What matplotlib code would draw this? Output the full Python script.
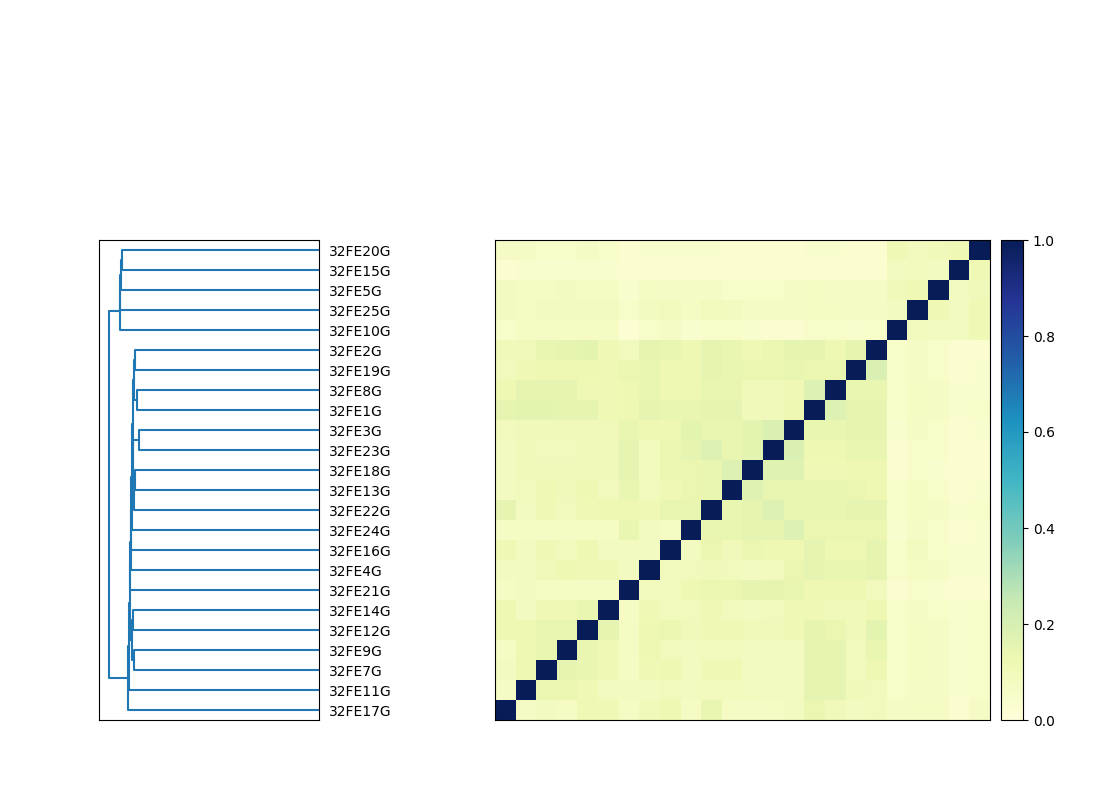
"""Leaf dendrogram next to a similarity heatmap (YlGnBu)."""
import numpy as np
import matplotlib
matplotlib.use("Agg")
import matplotlib.pyplot as plt

LINE = "#1f77b4"

# leaf order, bottom -> top (same order as heatmap rows/columns)
LEAVES = ["32FE17G", "32FE11G", "32FE7G", "32FE9G", "32FE12G", "32FE14G",
          "32FE21G", "32FE4G", "32FE16G", "32FE24G", "32FE22G", "32FE13G",
          "32FE18G", "32FE23G", "32FE3G", "32FE1G", "32FE8G", "32FE19G",
          "32FE2G", "32FE10G", "32FE25G", "32FE5G", "32FE15G", "32FE20G"]

# merges: (left, right, distance); an int refers to an earlier merge
MERGES = [
    ("32FE20G", "32FE15G", 0.941),   # 0
    (0, "32FE5G", 0.945),            # 1
    (1, "32FE25G", 0.948),           # 2
    (2, "32FE10G", 0.952),           # 3
    ("32FE2G", "32FE19G", 0.877),    # 4
    ("32FE8G", "32FE1G", 0.869),     # 5
    (4, 5, 0.884),                   # 6
    ("32FE3G", "32FE23G", 0.860),    # 7
    ("32FE18G", "32FE13G", 0.877),   # 8
    (8, "32FE22G", 0.884),           # 9
    (7, 9, 0.888),                   # 10
    (6, 10, 0.890),                  # 11
    (11, "32FE24G", 0.892),          # 12
    (12, "32FE16G", 0.897),          # 13
    (13, "32FE4G", 0.899),           # 14
    (14, "32FE21G", 0.900),          # 15
    ("32FE14G", "32FE12G", 0.888),   # 16
    ("32FE9G", "32FE7G", 0.883),     # 17
    (16, 17, 0.892),                 # 18
    (15, 18, 0.904),                 # 19
    (19, "32FE11G", 0.909),          # 20
    (20, "32FE17G", 0.911),          # 21
    (3, 21, 1.000),                  # 22
]

# similarity matrix, row 0 = bottom leaf, column 0 = left
SIMILARITY = [
    [1.00, 0.06, 0.08, 0.07, 0.11, 0.11, 0.07, 0.10, 0.12, 0.07, 0.14, 0.07, 0.06, 0.07, 0.08, 0.13, 0.10, 0.08, 0.09, 0.06, 0.07, 0.07, 0.03, 0.06],
    [0.06, 1.00, 0.13, 0.13, 0.11, 0.08, 0.08, 0.08, 0.09, 0.08, 0.09, 0.09, 0.08, 0.08, 0.08, 0.15, 0.15, 0.10, 0.09, 0.05, 0.06, 0.06, 0.04, 0.05],
    [0.08, 0.12, 1.00, 0.15, 0.14, 0.11, 0.07, 0.11, 0.12, 0.08, 0.11, 0.11, 0.08, 0.08, 0.08, 0.15, 0.15, 0.09, 0.12, 0.05, 0.07, 0.06, 0.04, 0.05],
    [0.07, 0.12, 0.14, 1.00, 0.14, 0.11, 0.07, 0.12, 0.09, 0.08, 0.09, 0.09, 0.08, 0.08, 0.08, 0.15, 0.15, 0.09, 0.14, 0.05, 0.07, 0.06, 0.04, 0.05],
    [0.12, 0.12, 0.14, 0.14, 1.00, 0.15, 0.07, 0.12, 0.13, 0.10, 0.11, 0.11, 0.10, 0.10, 0.11, 0.15, 0.13, 0.10, 0.16, 0.05, 0.07, 0.06, 0.04, 0.05],
    [0.12, 0.08, 0.11, 0.11, 0.14, 1.00, 0.07, 0.11, 0.09, 0.09, 0.11, 0.09, 0.08, 0.09, 0.11, 0.11, 0.10, 0.10, 0.12, 0.05, 0.06, 0.05, 0.04, 0.05],
    [0.07, 0.08, 0.07, 0.07, 0.07, 0.07, 1.00, 0.09, 0.09, 0.12, 0.13, 0.13, 0.15, 0.15, 0.14, 0.12, 0.12, 0.12, 0.09, 0.03, 0.05, 0.04, 0.03, 0.03],
    [0.08, 0.08, 0.10, 0.12, 0.11, 0.11, 0.08, 1.00, 0.09, 0.09, 0.10, 0.09, 0.08, 0.09, 0.13, 0.15, 0.14, 0.14, 0.15, 0.05, 0.07, 0.06, 0.04, 0.04],
    [0.11, 0.08, 0.11, 0.09, 0.12, 0.08, 0.08, 0.08, 1.00, 0.08, 0.13, 0.10, 0.13, 0.12, 0.12, 0.15, 0.12, 0.12, 0.15, 0.05, 0.08, 0.05, 0.04, 0.04],
    [0.07, 0.07, 0.07, 0.07, 0.07, 0.07, 0.14, 0.08, 0.07, 1.00, 0.14, 0.14, 0.15, 0.15, 0.18, 0.13, 0.13, 0.13, 0.13, 0.04, 0.06, 0.05, 0.03, 0.04],
    [0.15, 0.08, 0.11, 0.09, 0.11, 0.12, 0.12, 0.11, 0.14, 0.14, 1.00, 0.14, 0.15, 0.18, 0.14, 0.14, 0.14, 0.15, 0.15, 0.05, 0.07, 0.06, 0.04, 0.05],
    [0.08, 0.09, 0.11, 0.10, 0.12, 0.09, 0.14, 0.09, 0.11, 0.13, 0.14, 1.00, 0.17, 0.14, 0.14, 0.14, 0.14, 0.13, 0.12, 0.05, 0.07, 0.05, 0.03, 0.04],
    [0.08, 0.10, 0.10, 0.10, 0.10, 0.10, 0.15, 0.09, 0.13, 0.13, 0.14, 0.18, 1.00, 0.17, 0.17, 0.11, 0.11, 0.12, 0.12, 0.03, 0.05, 0.04, 0.03, 0.03],
    [0.08, 0.10, 0.09, 0.09, 0.10, 0.10, 0.15, 0.09, 0.13, 0.15, 0.18, 0.14, 0.16, 1.00, 0.19, 0.12, 0.12, 0.14, 0.14, 0.03, 0.05, 0.05, 0.03, 0.03],
    [0.09, 0.10, 0.10, 0.10, 0.10, 0.10, 0.14, 0.12, 0.12, 0.16, 0.14, 0.14, 0.16, 0.19, 1.00, 0.14, 0.14, 0.15, 0.15, 0.04, 0.06, 0.05, 0.03, 0.04],
    [0.15, 0.16, 0.16, 0.15, 0.15, 0.11, 0.12, 0.15, 0.14, 0.14, 0.15, 0.15, 0.10, 0.10, 0.12, 1.00, 0.18, 0.15, 0.15, 0.05, 0.07, 0.06, 0.04, 0.05],
    [0.12, 0.15, 0.15, 0.15, 0.11, 0.11, 0.12, 0.14, 0.12, 0.12, 0.14, 0.14, 0.10, 0.10, 0.11, 0.18, 1.00, 0.14, 0.14, 0.05, 0.07, 0.06, 0.04, 0.04],
    [0.09, 0.11, 0.12, 0.12, 0.12, 0.11, 0.13, 0.14, 0.12, 0.12, 0.15, 0.14, 0.13, 0.13, 0.14, 0.13, 0.13, 1.00, 0.19, 0.05, 0.06, 0.05, 0.03, 0.04],
    [0.10, 0.10, 0.14, 0.15, 0.16, 0.11, 0.09, 0.15, 0.14, 0.12, 0.15, 0.14, 0.11, 0.13, 0.15, 0.15, 0.12, 0.15, 1.00, 0.05, 0.06, 0.05, 0.03, 0.03],
    [0.05, 0.07, 0.07, 0.07, 0.07, 0.07, 0.02, 0.05, 0.06, 0.04, 0.05, 0.05, 0.04, 0.03, 0.03, 0.05, 0.05, 0.04, 0.05, 1.00, 0.09, 0.08, 0.08, 0.11],
    [0.08, 0.07, 0.08, 0.08, 0.08, 0.08, 0.05, 0.08, 0.09, 0.07, 0.09, 0.08, 0.06, 0.06, 0.06, 0.07, 0.07, 0.06, 0.06, 0.08, 1.00, 0.11, 0.08, 0.11],
    [0.08, 0.07, 0.07, 0.08, 0.07, 0.07, 0.04, 0.07, 0.06, 0.06, 0.06, 0.05, 0.05, 0.05, 0.06, 0.07, 0.06, 0.06, 0.06, 0.10, 0.11, 1.00, 0.08, 0.10],
    [0.03, 0.04, 0.04, 0.04, 0.04, 0.04, 0.03, 0.03, 0.03, 0.03, 0.03, 0.03, 0.03, 0.03, 0.03, 0.03, 0.03, 0.03, 0.03, 0.08, 0.09, 0.08, 1.00, 0.11],
    [0.06, 0.06, 0.05, 0.05, 0.06, 0.05, 0.03, 0.04, 0.04, 0.04, 0.04, 0.03, 0.03, 0.03, 0.03, 0.04, 0.04, 0.03, 0.03, 0.11, 0.09, 0.10, 0.11, 1.00],
]


def draw_dendrogram(ax, leaves, merges):
    # leaf positions like scipy: 5, 15, 25, ...
    pos = {name: (0.0, 5.0 + 10.0 * i) for i, name in enumerate(leaves)}
    node = []
    for left, right, h in merges:
        hl, yl = node[left] if isinstance(left, int) else pos[left]
        hr, yr = node[right] if isinstance(right, int) else pos[right]
        ax.plot([hl, h, h, hr], [yl, yl, yr, yr], color=LINE, lw=1.5)
        node.append((h, (yl + yr) / 2.0))
    top = max(m[2] for m in merges)
    ax.set_xlim(top * 1.05, 0)
    ax.set_ylim(0, 10 * len(leaves))
    ax.set_xticks([])
    ax.set_yticks([5 + 10 * i for i in range(len(leaves))])
    ax.set_yticklabels(leaves, fontsize=10)
    ax.yaxis.set_ticks_position("right")
    for line in ax.get_yticklines():
        line.set_visible(False)


def main():
    fig = plt.figure(figsize=(11, 8), dpi=100)

    ax_d = fig.add_axes([0.09, 0.1, 0.2, 0.6])
    draw_dendrogram(ax_d, LEAVES, MERGES)

    ax_m = fig.add_axes([0.45, 0.1, 0.45, 0.6])
    im = ax_m.imshow(np.array(SIMILARITY), origin="lower", aspect="auto",
                     cmap="YlGnBu", vmin=0, vmax=1, interpolation="nearest")
    ax_m.set_xticks([])
    ax_m.set_yticks([])

    cax = fig.add_axes([0.91, 0.1, 0.02, 0.6])
    fig.colorbar(im, cax=cax)

    fig.savefig("out.png", dpi=100)
    plt.close(fig)


if __name__ == "__main__":
    main()
